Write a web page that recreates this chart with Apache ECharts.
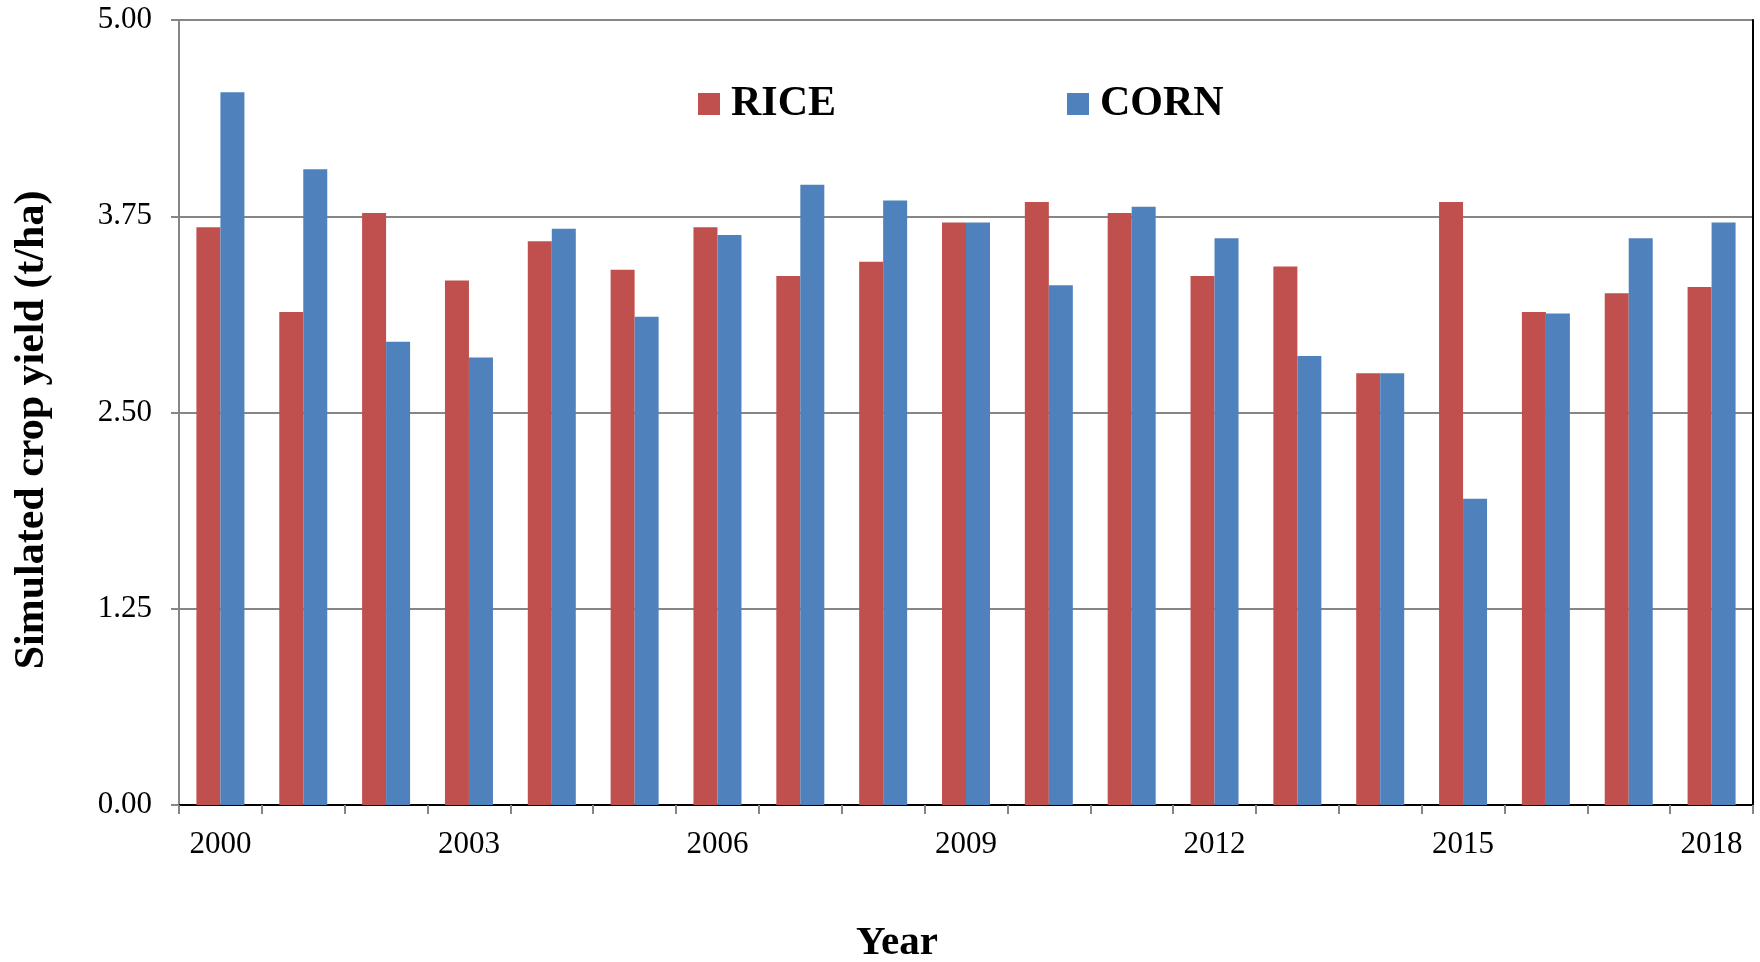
<!DOCTYPE html>
<html>
<head>
<meta charset="utf-8">
<title>Simulated crop yield</title>
<script src="https://cdn.jsdelivr.net/npm/echarts@6/dist/echarts.min.js"></script>
<style>
  html, body { margin: 0; padding: 0; background: #ffffff; }
  #chart { width: 1760px; height: 962px; }
</style>
</head>
<body>
<div id="chart"></div>
<script>
// Years on the category axis
var years = ['2000', '2001', '2002', '2003', '2004', '2005', '2006', '2007', '2008', '2009',
             '2010', '2011', '2012', '2013', '2014', '2015', '2016', '2017', '2018'];

// Simulated yields, t/ha
var riceYield = [3.68, 3.14, 3.77, 3.34, 3.59, 3.41, 3.68, 3.37, 3.46, 3.71,
                 3.84, 3.77, 3.37, 3.43, 2.75, 3.84, 3.14, 3.26, 3.30];
var cornYield = [4.54, 4.05, 2.95, 2.85, 3.67, 3.11, 3.63, 3.95, 3.85, 3.71,
                 3.31, 3.81, 3.61, 2.86, 2.75, 1.95, 3.13, 3.61, 3.71];

// Value axis ticks
var yMin = 0;
var yMax = 5;
var yStep = 1.25;

var FONT = '"Liberation Serif", "Times New Roman", serif';
var GRAY = '#868686';

var chart = echarts.init(document.getElementById('chart'), null, { renderer: 'canvas' });

chart.setOption({
  animation: false,
  backgroundColor: '#ffffff',
  grid: { left: 179, right: 7, top: 20, bottom: 157, containLabel: false },
  legend: {
    data: ['RICE', 'CORN'],
    left: 698,
    top: 83,
    padding: 0,
    itemWidth: 22,
    itemHeight: 22,
    itemGap: 231,
    icon: 'rect',
    textStyle: { fontFamily: FONT, fontSize: 42, fontWeight: 'bold', color: '#000000', padding: [0, 0, 0, 6] }
  },
  xAxis: [
    {
      type: 'category',
      data: years,
      boundaryGap: true,
      axisLine: { show: true, lineStyle: { color: GRAY, width: 2 } },
      axisTick: { show: true, alignWithLabel: false, interval: 0, length: 9, lineStyle: { color: GRAY, width: 2 } },
      axisLabel: {
        interval: 2,
        margin: 24,
        fontFamily: FONT,
        fontSize: 31,
        color: '#000000'
      },
      splitLine: { show: false }
    },
    {
      // top edge of the plot frame
      type: 'category',
      data: years,
      position: 'top',
      axisLine: { show: true, lineStyle: { color: '#000000', width: 2 } },
      axisTick: { show: false },
      axisLabel: { show: false },
      splitLine: { show: false }
    }
  ],
  yAxis: [
    {
      type: 'value',
      min: yMin,
      max: yMax,
      interval: yStep,
      axisLine: { show: true, lineStyle: { color: GRAY, width: 2 } },
      axisTick: { show: true, length: 8, lineStyle: { color: GRAY, width: 2 } },
      axisLabel: {
        margin: 27,
        fontFamily: FONT,
        fontSize: 31,
        color: '#000000',
        formatter: function (v) { return v.toFixed(2); }
      },
      splitLine: { show: true, lineStyle: { color: GRAY, width: 2 } }
    },
    {
      // right edge of the plot frame
      type: 'value',
      min: yMin,
      max: yMax,
      interval: yStep,
      position: 'right',
      axisLine: { show: true, lineStyle: { color: '#000000', width: 2 } },
      axisTick: { show: false },
      axisLabel: { show: false },
      splitLine: { show: false }
    }
  ],
  series: [
    {
      name: 'RICE',
      type: 'bar',
      data: riceYield,
      barWidth: 24,
      barGap: '0%',
      itemStyle: { color: '#C0504D' }
    },
    {
      name: 'CORN',
      type: 'bar',
      data: cornYield,
      barWidth: 24,
      barGap: '0%',
      itemStyle: { color: '#4F81BD' }
    }
  ],
  graphic: [
    {
      type: 'text',
      x: 897,
      y: 943,
      style: {
        text: 'Year',
        fontFamily: FONT,
        fontSize: 41,
        fontWeight: 'bold',
        fill: '#000000',
        align: 'center',
        verticalAlign: 'middle'
      }
    },
    {
      type: 'text',
      x: 32,
      y: 430,
      rotation: Math.PI / 2,
      style: {
        text: 'Simulated crop yield (t/ha)',
        fontFamily: FONT,
        fontSize: 42,
        fontWeight: 'bold',
        fill: '#000000',
        align: 'center',
        verticalAlign: 'middle'
      }
    }
  ]
});
</script>
</body>
</html>
